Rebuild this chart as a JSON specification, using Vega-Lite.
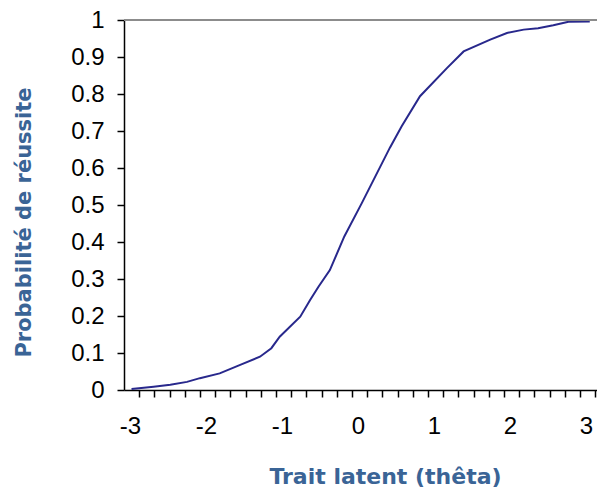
{
  "$schema": "https://vega.github.io/schema/vega-lite/v6.json",
  "autosize": "none",
  "width": 473,
  "height": 370,
  "padding": {"left": 124, "top": 20, "right": 0, "bottom": 103},
  "background": "white",
  "config": {
    "view": {"stroke": null},
    "font": "Liberation Sans"
  },
  "data": {
    "values": [
      {"theta": -2.98, "p": 0.003},
      {"theta": -2.69, "p": 0.009},
      {"theta": -2.47, "p": 0.014},
      {"theta": -2.25, "p": 0.022},
      {"theta": -2.08, "p": 0.032},
      {"theta": -1.82, "p": 0.045},
      {"theta": -1.55, "p": 0.068},
      {"theta": -1.29, "p": 0.09},
      {"theta": -1.14, "p": 0.113},
      {"theta": -1.03, "p": 0.144},
      {"theta": -0.76, "p": 0.198},
      {"theta": -0.63, "p": 0.243},
      {"theta": -0.52, "p": 0.279},
      {"theta": -0.37, "p": 0.324},
      {"theta": -0.18, "p": 0.415},
      {"theta": 0.05, "p": 0.505},
      {"theta": 0.42, "p": 0.655},
      {"theta": 0.575, "p": 0.713},
      {"theta": 0.816, "p": 0.794},
      {"theta": 1.17, "p": 0.87},
      {"theta": 1.39, "p": 0.915},
      {"theta": 1.74, "p": 0.947},
      {"theta": 1.96, "p": 0.965},
      {"theta": 2.18, "p": 0.974},
      {"theta": 2.37, "p": 0.978},
      {"theta": 2.57, "p": 0.986},
      {"theta": 2.77, "p": 0.995},
      {"theta": 3.05, "p": 0.996}
    ]
  },
  "layer": [
    {
      "mark": {"type": "line", "color": "#28288c", "strokeWidth": 2},
      "encoding": {
        "x": {
          "field": "theta",
          "type": "quantitative",
          "scale": {"domain": [-3.079, 3.145], "nice": false, "zero": false},
          "axis": {
            "values": [-3.08, -3, -2.88, -2.68, -2.48, -2.28, -2.08, -2, -1.88, -1.68, -1.48, -1.28, -1.08, -1, -0.88, -0.68, -0.48, -0.28, -0.08, 0, 0.12, 0.32, 0.52, 0.72, 0.92, 1, 1.12, 1.32, 1.52, 1.72, 1.92, 2, 2.12, 2.32, 2.52, 2.72, 2.92, 3, 3.12],
            "labelExpr": "abs(datum.value - round(datum.value)) < 0.001 ? '' + round(datum.value) : ''",
            "tickOpacity": {"condition": {"test": "abs(datum.value - round(datum.value)) < 0.001", "value": 0}, "value": 1},
            "grid": false,
            "domainColor": "#000000",
            "domainWidth": 1.5,
            "tickColor": "#000000",
            "tickWidth": 1.5,
            "tickSize": 7,
            "labelFontSize": 24,
            "labelColor": "#000000",
            "labelPadding": 17,
            "labelBaseline": "top",
            "labelFlush": false,
            "labelOverlap": false,
            "title": "Trait latent (thêta)",
            "titleFont": "DejaVu Sans",
            "titleFontSize": 22,
            "titleFontWeight": "bold",
            "titleColor": "#3a6496",
            "titleX": 261,
            "titleY": 93,
            "titleAlign": "center",
            "titleBaseline": "alphabetic"
          }
        },
        "y": {
          "field": "p",
          "type": "quantitative",
          "scale": {"domain": [0, 1], "nice": false},
          "axis": {
            "values": [0, 0.1, 0.2, 0.3, 0.4, 0.5, 0.6, 0.7, 0.8, 0.9, 1],
            "tickCount": 11,
            "format": ".1~f",
            "grid": false,
            "domainColor": "#000000",
            "domainWidth": 1.5,
            "tickColor": "#000000",
            "tickWidth": 1.5,
            "tickSize": 7,
            "labelFontSize": 24,
            "labelColor": "#000000",
            "labelPadding": 13,
            "labelFlush": false,
            "labelOverlap": false,
            "title": "Probabilité de réussite",
            "titleFont": "DejaVu Sans",
            "titleFontSize": 21,
            "titleFontWeight": "bold",
            "titleColor": "#3a6496",
            "titleAngle": -90,
            "titleX": -100,
            "titleY": 202,
            "titleAlign": "center",
            "titleBaseline": "middle"
          }
        }
      }
    },
    {
      "mark": {"type": "rule", "color": "#8c8c8c", "strokeWidth": 2},
      "encoding": {
        "y": {
          "datum": 1,
          "type": "quantitative",
          "axis": {
            "values": [0, 0.1, 0.2, 0.3, 0.4, 0.5, 0.6, 0.7, 0.8, 0.9, 1],
            "tickCount": 11,
            "format": ".1~f",
            "grid": false,
            "domainColor": "#000000",
            "domainWidth": 1.5,
            "tickColor": "#000000",
            "tickWidth": 1.5,
            "tickSize": 7,
            "labelFontSize": 24,
            "labelColor": "#000000",
            "labelPadding": 13,
            "labelFlush": false,
            "labelOverlap": false,
            "title": "Probabilité de réussite",
            "titleFont": "DejaVu Sans",
            "titleFontSize": 21,
            "titleFontWeight": "bold",
            "titleColor": "#3a6496",
            "titleAngle": -90,
            "titleX": -100,
            "titleY": 202,
            "titleAlign": "center",
            "titleBaseline": "middle"
          }
        }
      }
    }
  ]
}
